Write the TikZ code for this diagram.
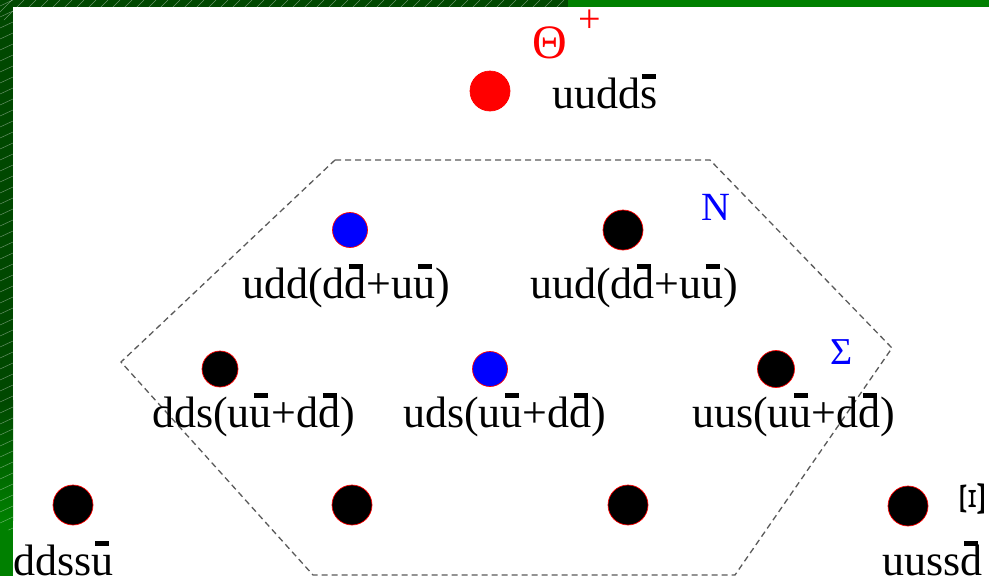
\documentclass[tikz,border=0pt]{standalone}
\usepackage{fontspec}
\setmainfont{Liberation Serif}
\definecolor{gdark}{RGB}{0,72,0}
\definecolor{gmain}{RGB}{0,128,0}
\definecolor{hexgray}{RGB}{90,90,90}
\newcommand\ob[1]{\leavevmode\setbox0\hbox{#1}\rlap{\hbox to\wd0{\hss\raisebox{29pt}{\rule{14pt}{5pt}}\hss}}\box0}
\begin{document}
\begin{tikzpicture}[x=1pt,y=-1pt,
  qdot/.style={circle, draw=red, line width=0.7pt, inner sep=0pt, minimum size=#1},
  lbl/.style={anchor=base west, inner sep=0pt, font=\fontsize{44}{44}\selectfont},
  tag/.style={inner sep=0pt, font=\fontsize{40}{40}\selectfont},
  hexline/.style={hexgray, line width=1.3pt, dash pattern=on 6pt off 4pt}]
\useasboundingbox (0,0) rectangle (989,576);
\fill[white] (0,0) rectangle (989,576);
% frame
\fill[gdark] (0,0) rectangle (568,7);
\fill[gmain] (568,0) rectangle (989,7);
\fill[gdark] (0,0) rectangle (13,400);
\shade[top color=gdark,bottom color=gmain] (0,400) rectangle (13,520);
\fill[gmain] (0,520) rectangle (13,576);
\begin{scope}
  \clip (0,0) rectangle (568,7) (0,0) rectangle (13,530);
  \foreach \i in {-560,-548,...,600}
    \draw[white,opacity=0.4,line width=0.5pt] (\i,20) -- ++(20,-20);
  \foreach \j in {0,11,...,540}
    \draw[white,opacity=0.4,line width=0.5pt] (0,\j+6) -- ++(13,-6);
\end{scope}
% hexagon
\coordinate (h1) at (335,160);
\coordinate (h2) at (710,160);
\coordinate (h3) at (892,348);
\coordinate (h4) at (735,575);
\coordinate (h5) at (313,575);
\coordinate (h6) at (121,362);
\draw[hexline] (h1) -- (h2) -- (h3) -- (h4) -- (h5) -- (h6) -- cycle;
% dots
\node[qdot=40pt, fill=red] (theta) at (490,91) {};
\node[qdot=35pt, fill=blue] (n1) at (350,230) {};
\node[qdot=40pt, fill=black] (n2) at (623,230) {};
\node[qdot=36pt, fill=black] (s1) at (220,369) {};
\node[qdot=35pt, fill=blue] (s2) at (490,369) {};
\node[qdot=37pt, fill=black] (s3) at (776,369) {};
\node[qdot=40pt, fill=black] (x1) at (73,505) {};
\node[qdot=40pt, fill=black] (x2) at (352,505) {};
\node[qdot=40pt, fill=black] (x3) at (628,505) {};
\node[qdot=40pt, fill=black] (x4) at (908,506) {};
% labels
\node[lbl] (ltheta) at (552,108) {uudd\ob{s}};
\node[lbl] (ln1) at (242,298) {udd(d\ob{d}+u\ob{u})};
\node[lbl] (ln2) at (530,298) {uud(d\ob{d}+u\ob{u})};
\node[lbl] (ls1) at (152,427) {dds(u\ob{u}+d\ob{d})};
\node[lbl] (ls2) at (403,427) {uds(u\ob{u}+d\ob{d})};
\node[lbl] (ls3) at (692,427) {uus(u\ob{u}+d\ob{d})};
\node[lbl] (lx1) at (13,575) {ddss\ob{u}};
\node[lbl] (lx4) at (882,575) {uuss\ob{d}};
% multiplet tags
\node[tag, text=red, font=\fontsize{48}{48}\selectfont] (tTheta) at (550,43) {Θ};
\node[tag, text=red, font=\fontsize{40}{40}\selectfont] (tplus) at (590,21) {+};
\node[tag, text=blue] (tN) at (716,207) {N};
\node[tag, text=blue, font=\fontsize{38}{38}\selectfont] (tSigma) at (842,352) {Σ};
\node[tag, rotate=90, font=\fontsize{36}{36}\selectfont] (tXi) at (973,499) {\scalebox{1.6}[1]{Ξ}};
\end{tikzpicture}
\end{document}
